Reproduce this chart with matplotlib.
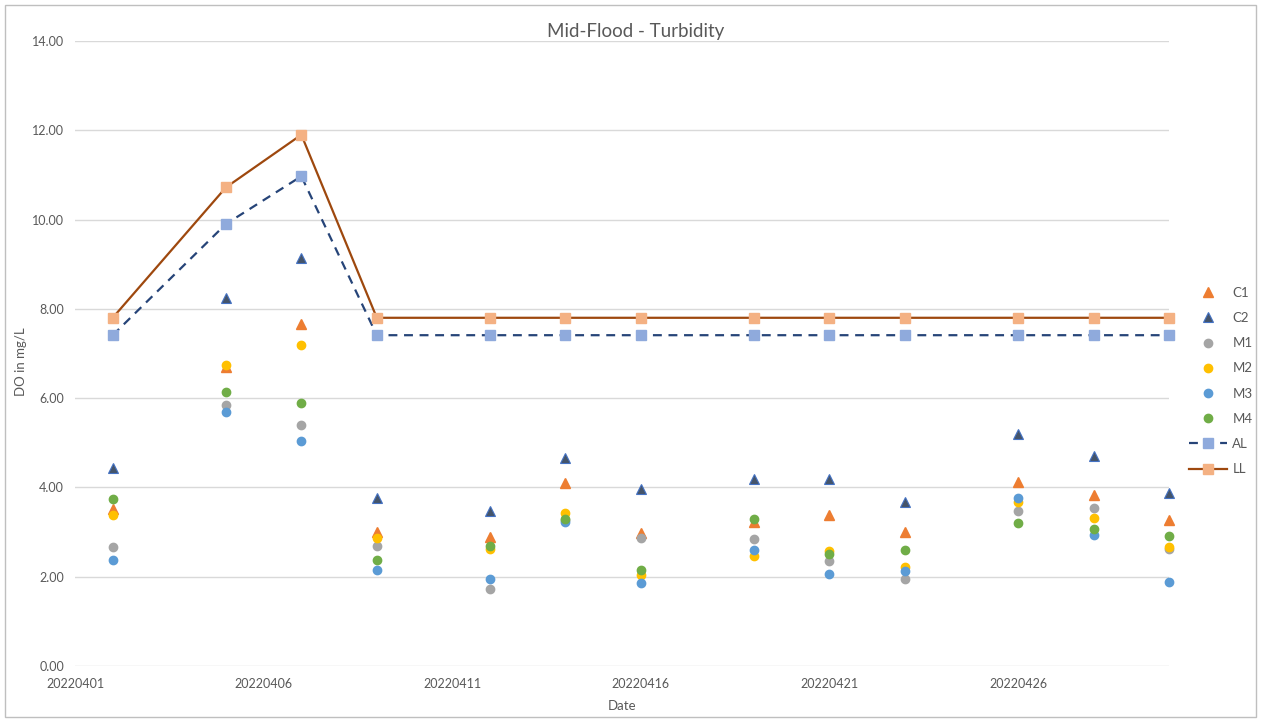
import matplotlib.pyplot as plt
from matplotlib.patches import Rectangle

# sample dates and readings (DO in mg/L)
dates = ['20220402', '20220405', '20220407', '20220409', '20220412', '20220414', '20220416',
         '20220419', '20220421', '20220423', '20220426', '20220428', '20220430']
tick_dates = ['20220401', '20220406', '20220411', '20220416', '20220421', '20220426']

C1 = [3.51, 6.70, 7.65, 3.01, 2.88, 4.11, 2.97, 3.23, 3.38, 3.01, 4.13, 3.83, 3.26]
C2 = [4.43, 8.25, 9.14, 3.77, 3.48, 4.65, 3.96, 4.18, 4.18, 3.67, 5.19, 4.70, 3.87]
M1 = [2.67, 5.85, 5.40, 2.68, 1.72, 3.28, 2.87, 2.85, 2.35, 1.95, 3.48, 3.55, 2.61]
M2 = [3.38, 6.74, 7.19, 2.87, 2.61, 3.42, 2.03, 2.46, 2.58, 2.22, 3.68, 3.31, 2.67]
M3 = [2.37, 5.69, 5.05, 2.15, 1.94, 3.22, 1.86, 2.60, 2.07, 2.13, 3.76, 2.93, 1.88]
M4 = [3.73, 6.14, 5.89, 2.37, 2.69, 3.30, 2.14, 3.29, 2.52, 2.60, 3.21, 3.08, 2.92]
AL = [7.41, 9.90, 10.97, 7.41, 7.41, 7.41, 7.41, 7.41, 7.41, 7.41, 7.41, 7.41, 7.41]
LL = [7.80, 10.72, 11.90, 7.80, 7.80, 7.80, 7.80, 7.80, 7.80, 7.80, 7.80, 7.80, 7.80]

x = [int(d[-2:]) for d in dates]
xt = [int(d[-2:]) for d in tick_dates]

plt.rcParams['font.family'] = ['Lato', 'DejaVu Sans']
txt = '#595959'

fig = plt.figure(figsize=(12.61, 7.19), dpi=100)
ax = fig.add_axes([75/1261, 53/719, 1094/1261, 625/719])

ax.plot(x, C1, '^', color='#ED7D31', ms=6.5, mec='#ED7D31', label='C1')
ax.plot(x, C2, '^', color='#44546A', ms=6.5, mec='#4472C4', mew=0.8, label='C2')
ax.plot(x, M1, 'o', color='#A5A5A5', ms=6, label='M1')
ax.plot(x, M2, 'o', color='#FFC000', ms=6, label='M2')
ax.plot(x, M3, 'o', color='#5B9BD5', ms=6, label='M3')
ax.plot(x, M4, 'o', color='#70AD47', ms=6, label='M4')
ax.plot(x, AL, '--', color='#264478', lw=1.6, dashes=(4, 3), marker='s', ms=7,
        mfc='#8FAADC', mec='#8FAADC', label='AL')
ax.plot(x, LL, '-', color='#9E480E', lw=1.6, marker='s', ms=7,
        mfc='#F4B183', mec='#F4B183', label='LL')

ax.set_xlim(1, 30)
ax.set_ylim(0, 14)
ax.set_yticks(range(0, 15, 2))
ax.set_yticklabels([f'{v:.2f}' for v in range(0, 15, 2)])
ax.set_xticks(xt)
ax.set_xticklabels(tick_dates)
ax.tick_params(length=0, labelsize=9, colors=txt, pad=8)
ax.tick_params(axis='x', pad=9)
ax.grid(axis='y', color='#D9D9D9', lw=1)
ax.set_axisbelow(True)
for s in ax.spines.values():
    s.set_visible(False)
for ln in ax.lines:
    ln.set_clip_on(False)

fig.text(636/1261, 1 - 31/719, 'Mid-Flood - Turbidity', fontsize=13.5, color=txt,
         ha='center', va='center')
ax.set_xlabel('Date', fontsize=9.5, color=txt, labelpad=7)
ax.set_ylabel('DO in mg/L', fontsize=9.5, color=txt)
ax.yaxis.set_label_coords((27 - 75) / 1094, (666 - 362) / 625)

ax.legend(loc='center left', bbox_to_anchor=(1177/1261, 1 - 381/719),
          bbox_transform=fig.transFigure, frameon=False, fontsize=9.5,
          labelcolor=txt, handlelength=2.9, labelspacing=1.0, handletextpad=0.4)

fig.patches.append(Rectangle((5/1261, 2/719), 1251/1261, 712/719, transform=fig.transFigure,
                             fill=False, ec='#BFBFBF', lw=1))

fig.savefig('out.png', dpi=100)
